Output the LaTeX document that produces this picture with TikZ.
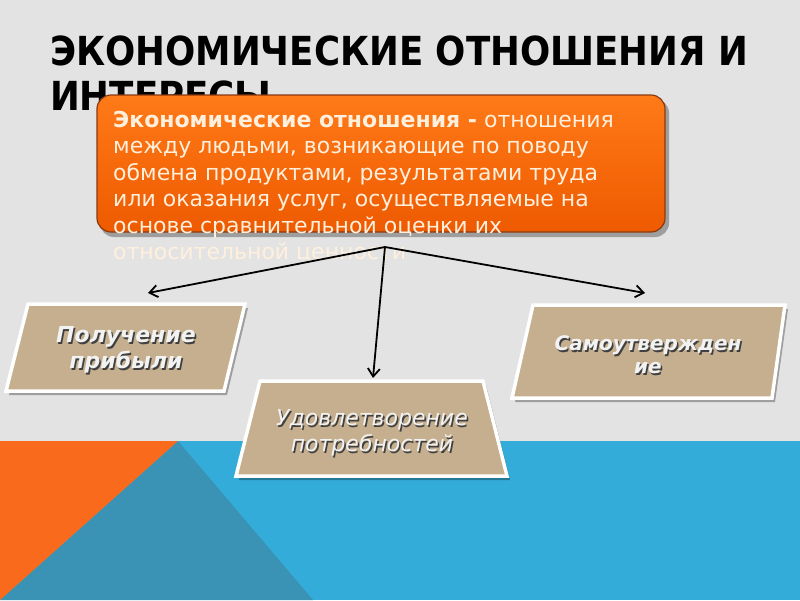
\documentclass[tikz,border=0pt]{standalone}
\usepackage{fontspec}
\setmainfont{DejaVu Sans}
\newfontfamily\titlefont{DejaVu Sans}[FakeStretch=0.89]
\usetikzlibrary{arrows.meta}
\definecolor{bggray}{HTML}{E3E3E3}
\definecolor{bandblue}{HTML}{34ACD9}
\definecolor{darkteal}{HTML}{3A93B4}
\definecolor{bandorange}{HTML}{FA6A1C}
\definecolor{otop}{HTML}{FF7A18}
\definecolor{obot}{HTML}{EE5A00}
\definecolor{oborder}{HTML}{8A3A10}
\definecolor{deftext}{HTML}{FFF0DD}
\definecolor{tan}{HTML}{C5AF8E}
\definecolor{lighttext}{HTML}{F2F2F2}
\begin{document}
\begin{tikzpicture}[x=1pt,y=-1pt,
  titlestyle/.style={anchor=base west, inner sep=0pt, font=\titlefont\fontsize{40}{45}\selectfont\bfseries, text=black},
  defline/.style={anchor=base west, inner sep=0pt, text=deftext, font=\fontsize{22}{26.5}\selectfont},
  shapebox/.style={fill=tan, draw=white, line width=3.5pt, line join=miter},
  shapeshadow/.style={fill=black, opacity=0.3},
  arr/.style={line width=1.8pt, -{Straight Barb[length=8pt,width=12pt,line width=1.8pt]}},
  boldtext/.style={align=center, inner sep=0pt, text=lighttext, font=\fontsize{22}{26}\selectfont\bfseries\itshape},
  plaintext/.style={align=center, inner sep=0pt, text=lighttext, font=\fontsize{22}{26}\selectfont\itshape},
  righttext/.style={align=center, inner sep=0pt, text=lighttext, font=\fontsize{20}{23}\selectfont\bfseries\itshape},
  shadowtext/.style={text=black!75}
]
\useasboundingbox (0,0) rectangle (800,600);
% background
\fill[bggray] (0,0) rectangle (800,442);
\fill[bandblue] (0,441) rectangle (800,600);
\fill[darkteal] (178,441) -- (313,600) -- (0,600) -- cycle;
\fill[bandorange] (0,441) -- (178,441) -- (0,600) -- cycle;
% title
\node[titlestyle] (t1) at (50,65) {ЭКОНОМИЧЕСКИЕ ОТНОШЕНИЯ И};
\node[titlestyle] (t2) at (50,110) {ИНТЕРЕСЫ};
% definition box
\fill[black, opacity=0.3, rounded corners=14pt] (100,99) rectangle (669,237);
\node[draw=oborder, line width=1.2pt, rounded corners=14pt, top color=otop, bottom color=obot,
      minimum width=568pt, minimum height=137pt, inner sep=0pt] (def) at (381,163.5) {};
\node[defline] (l1) at (113,127) {\textbf{Экономические отношения -} отношения};
\node[defline] (l2) at (113,153.5) {между людьми, возникающие по поводу};
\node[defline] (l3) at (113,180) {обмена продуктами, результатами труда};
\node[defline] (l4) at (113,206.5) {или оказания услуг, осуществляемые на};
\node[defline] (l5) at (113,233) {основе сравнительной оценки их};
\node[defline] (l6) at (113,259.5) {относительной ценности};
% shapes
\fill[shapeshadow] (31,308) -- (248,308) -- (227,395) -- (9,395) -- cycle;
\draw[shapebox] (28,304) -- (245,304) -- (224,391) -- (6,391) -- cycle;
\fill[shapeshadow] (263,385) -- (486,385) -- (510,480) -- (239,480) -- cycle;
\draw[shapebox] (260,381) -- (483,381) -- (507,476) -- (236,476) -- cycle;
\fill[shapeshadow] (536,309) -- (788,309) -- (775,402) -- (515,402) -- cycle;
\draw[shapebox] (533,305) -- (785,305) -- (772,398) -- (512,398) -- cycle;
% shape texts
\node[boldtext, shadowtext] (pLs) at (127.5,351.5) {Получение\\прибыли};
\node[boldtext] (pL) at (126,350) {Получение\\прибыли};
\node[plaintext, shadowtext] (pMs) at (373.5,434.5) {Удовлетворение\\потребностей};
\node[plaintext] (pM) at (372,433) {Удовлетворение\\потребностей};
\node[righttext, shadowtext] (pRs) at (649.5,356.5) {Самоутвержден\\ие};
\node[righttext] (pR) at (648,355) {Самоутвержден\\ие};
% arrows
\coordinate (hub) at (385,247);
\coordinate (tipL) at (148,293);
\coordinate (tipM) at (373,378);
\coordinate (tipR) at (645,293);
\draw[arr] (hub) -- (tipL);
\draw[arr] (hub) -- (tipM);
\draw[arr] (hub) -- (tipR);
\end{tikzpicture}
\end{document}
